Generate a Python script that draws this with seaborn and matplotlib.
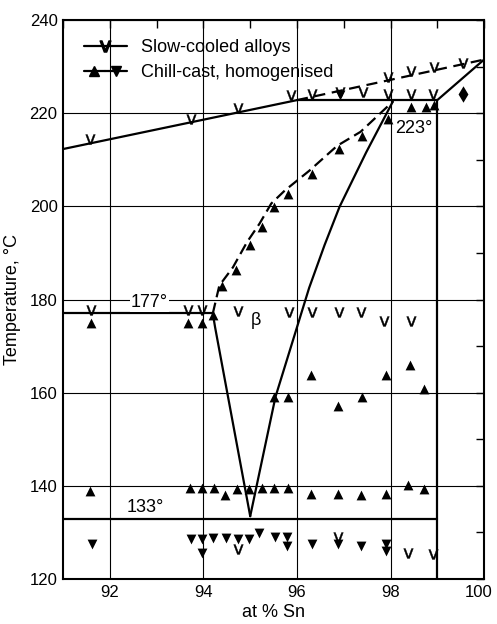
import numpy as np
import pandas as pd
import matplotlib
matplotlib.use("Agg")
import matplotlib.pyplot as plt
import matplotlib.transforms as mtransforms
from matplotlib.lines import Line2D
from matplotlib.legend_handler import HandlerTuple
import seaborn as sns

# ---------------- data ----------------
# slow-cooled alloys ("v" marks)
slow_x = [91.58, 93.73, 94.73, 95.87,
          96.33, 96.91, 97.41, 97.94, 98.44, 98.91,
          97.94, 98.44, 98.93, 99.54,
          91.60, 93.68, 93.96, 94.73, 95.82, 96.33, 96.89, 97.37, 97.87, 98.44,
          94.73, 96.87, 98.37, 98.90]
slow_T = [214.5, 218.8, 221.1, 223.9,
          224.2, 224.5, 224.5, 224.2, 224.2, 224.2,
          227.7, 229.0, 230.0, 230.8,
          177.8, 177.8, 177.8, 177.5, 177.3, 177.3, 177.3, 177.3, 175.3, 175.3,
          126.4, 129.0, 125.7, 125.3]

# chill-cast, homogenised: triangles pointing up
up_x = [94.20, 94.40, 94.69, 94.99, 95.26, 95.51, 95.80, 96.32, 96.90, 97.39, 97.94,
        98.44, 98.76, 98.93,
        91.60, 93.68, 93.96,
        95.51, 95.80, 96.31, 96.87, 97.39, 97.91, 98.41, 98.72,
        91.58, 93.71, 93.97, 94.22, 94.46, 94.72, 94.98, 95.26, 95.51, 95.80,
        96.31, 96.87, 97.37, 97.91, 98.37, 98.71]
up_T = [176.7, 182.8, 186.4, 191.7, 195.6, 199.9, 202.7, 207.0, 212.3, 215.1, 218.8,
        221.4, 221.4, 221.8,
        175.0, 175.0, 175.0,
        159.0, 159.0, 163.7, 157.2, 159.1, 163.7, 166.0, 160.8,
        139.0, 139.6, 139.6, 139.6, 138.0, 139.4, 139.4, 139.6, 139.6, 139.6,
        138.3, 138.3, 138.1, 138.3, 140.2, 139.4]

# chill-cast, homogenised: triangles pointing down
down_x = [96.91,
          91.62, 93.73, 93.96, 93.96, 94.21, 94.48, 94.73, 94.98, 95.18, 95.53,
          95.78, 95.78, 96.32, 96.87, 97.37, 97.91, 97.91]
down_T = [224.0,
          127.6, 128.7, 128.7, 125.7, 128.9, 128.9, 128.7, 128.7, 129.8, 129.0,
          129.0, 127.2, 127.6, 127.6, 127.2, 127.6, 126.1]

# combined up/down mark
diam_x = [99.54]
diam_T = [224.2]

# phase boundaries
liq_left_x, liq_left_T = [91.0, 96.0], [212.3, 222.8]
perit_x, perit_T = [96.0, 99.0], [222.8, 222.8]
liq_right_x, liq_right_T = [99.0, 100.0], [222.8, 231.5]
liq_slow_x, liq_slow_T = [96.0, 100.0], [222.8, 231.5]
eut177_x, eut177_T = [91.0, 94.2], [177.0, 177.0]
vleft_x, vleft_T = [94.2, 94.25, 95.0], [177.0, 174.0, 133.5]
vright_x = [95.0, 95.54, 96.26, 96.59, 96.91, 97.48, 98.05]
vright_T = [133.5, 159.1, 182.5, 191.7, 199.9, 211.6, 222.5]
chill_x = [94.20, 94.34, 94.63, 94.93, 95.20, 95.45, 95.74, 96.27, 96.86, 97.36, 98.05]
chill_T = [177.0, 183.0, 186.9, 192.3, 196.3, 200.6, 203.4, 207.7, 213.0, 216.0, 222.5]
eut133_x, eut133_T = [91.0, 99.0], [133.0, 133.0]
v99_x, v99_T = [99.0, 99.0], [120.0, 222.8]

# labels
labels = ["177°", "133°", "223°", "β"]
label_x = [92.85, 92.75, 98.50, 95.12]
label_T = [179.4, 135.3, 216.8, 175.6]

x_ticks = [92, 94, 96, 98, 100]
y_ticks = [120, 140, 160, 180, 200, 220, 240]

# ---------------- plot ----------------
sns.set_theme(style="white")
plt.rcParams["font.family"] = ["Liberation Sans", "DejaVu Sans"]
plt.rcParams["mathtext.fontset"] = "dejavusans"

fig = plt.figure(figsize=(4.97, 6.24), dpi=100)
ax = fig.add_axes([0.127, 0.072, 0.847, 0.896])

ax.set_xlim(91, 100)
ax.set_ylim(120, 240)
ax.set_xticks(x_ticks)
ax.set_yticks(y_ticks)
ax.set_xticks(np.arange(91, 101, 1), minor=True)
ax.set_yticks(np.arange(120, 241, 10), minor=True)
ax.grid(True, which="major", color="black", linewidth=0.8)
ax.tick_params(which="both", direction="in", top=True, right=True,
               length=6, width=1.0, color="black", labelsize=12,
               labelcolor="black", pad=4)
for s in ax.spines.values():
    s.set_color("black")
    s.set_linewidth(1.5)

lw = 1.6
def bline(xs, ts, ls="-"):
    d = pd.DataFrame({"x": xs, "T": ts})
    sns.lineplot(data=d, x="x", y="T", sort=False, estimator=None,
                 color="black", linewidth=lw, linestyle=ls, ax=ax, zorder=3)

bline(liq_left_x, liq_left_T)
bline(perit_x, perit_T)
bline(liq_right_x, liq_right_T)
bline(liq_slow_x, liq_slow_T, ls=(0, (5, 3)))
bline(eut177_x, eut177_T)
bline(vleft_x, vleft_T)
bline(vright_x, vright_T)
bline(chill_x, chill_T, ls=(0, (5, 2.5)))
bline(eut133_x, eut133_T)
bline(v99_x, v99_T)

vmark = r"$\mathsf{v}$"
sns.scatterplot(x=slow_x, y=slow_T, marker=vmark, s=50, color="black",
                linewidth=0.3, edgecolor="black", ax=ax, zorder=4)
sns.scatterplot(x=up_x, y=up_T, marker="^", s=50, color="black",
                linewidth=0, ax=ax, zorder=4)
sns.scatterplot(x=down_x, y=down_T, marker="v", s=50, color="black",
                linewidth=0, ax=ax, zorder=4)
sns.scatterplot(x=diam_x, y=diam_T, marker="d", s=70, color="black",
                linewidth=0, ax=ax, zorder=4)

for t, lx, ly in zip(labels, label_x, label_T):
    ax.text(lx, ly, t, ha="center", va="center", fontsize=13, color="black",
            zorder=5,
            bbox=dict(facecolor="white", edgecolor="none", pad=0.5) if t != "β" else None)

ax.set_xlabel("at % Sn", fontsize=13, color="black", labelpad=3)
ax.set_ylabel("Temperature, °C", fontsize=13, color="black", labelpad=6)

# keep the last x tick label inside the canvas
fig.canvas.draw()
last = ax.get_xticklabels()[-1]
last.set_transform(last.get_transform() +
                   mtransforms.ScaledTranslation(-5 / 100, 0, fig.dpi_scale_trans))

h1 = Line2D([], [], color="black", linewidth=1.6, marker=vmark, markersize=8)
h2a = Line2D([], [], color="black", linewidth=1.6, marker="^", markersize=7)
h2b = Line2D([], [], color="black", linewidth=1.6, marker="v", markersize=7)
leg = ax.legend([h1, (h2a, h2b)], ["Slow-cooled alloys", "Chill-cast, homogenised"],
                handler_map={tuple: HandlerTuple(ndivide=None, pad=0)},
                loc="upper left", bbox_to_anchor=(0.01, 0.995), frameon=False,
                fontsize=13, handlelength=2.4, handletextpad=0.8,
                labelspacing=0.45, numpoints=1)
for t in leg.get_texts():
    t.set_color("black")

fig.savefig("out.png", dpi=100, facecolor="white")
